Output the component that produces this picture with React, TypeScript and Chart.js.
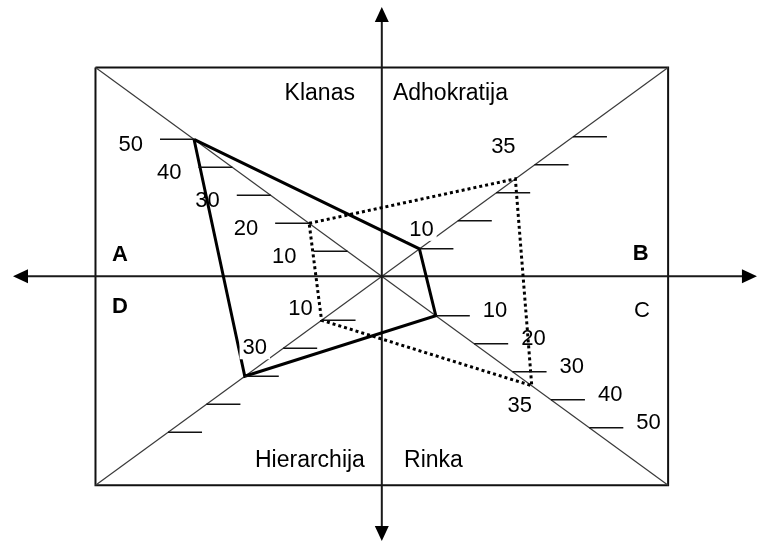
import React, { useEffect, useRef } from "react";
import { Chart, registerables } from "chart.js";

Chart.register(...registerables);

// ---- data ----
const quadrantKeys = ["A", "B", "C", "D"];
const cultureNames = ["Klanas", "Adhokratija", "Rinka", "Hierarchija"];
const tickValues = [10, 20, 30, 40, 50];
const solidValues = [50, 10, 10, 30]; // A, B, C, D
const dottedValues = [20, 35, 35, 10]; // A, B, C, D
const labelledTickQuadrants = ["A", "C"];

// ---- layout (chart units) ----
const DIR: Record<string, number[]> = { A: [-1, 1], B: [1, 1], C: [1, -1], D: [-1, -1] };
const AXIS_START: Record<string, number> = { A: -1.07, B: -0.2, C: 4.07, D: 5.7 };
const BOX = 74.6;
const X_MIN = -99.48, X_MAX = 98.02, Y_MIN = -94.54, Y_MAX = 98.68;
const AX_LEFT = -96.1, AX_RIGHT = 97.75, AX_TOP = 96.2, AX_BOTTOM = -94.5;
const TICK_LEN = 34;
const FONT = '"Liberation Sans", Arial, sans-serif';

const NAME_POS: Record<string, { x: number; y: number; align: CanvasTextAlign }> = {
  Klanas: { x: -7.0, y: 63.0, align: "right" },
  Adhokratija: { x: 2.9, y: 63.0, align: "left" },
  Hierarchija: { x: -4.4, y: -68.1, align: "right" },
  Rinka: { x: 5.8, y: -68.1, align: "left" },
};
const LETTER_POS: Record<string, { x: number; y: number; bold: boolean }> = {
  A: { x: -70.3, y: 5.5, bold: true },
  B: { x: 65.4, y: 5.8, bold: true },
  C: { x: 65.7, y: -14.5, bold: false },
  D: { x: -70.3, y: -13.1, bold: true },
};
const DATA_LABEL_OFFSET: Record<string, number[]> = {
  solidB: [2, -19],
  dottedB: [-12, -32],
  dottedC: [-12, 20],
  dottedD: [-21, -11],
  solidD: [10, -28],
};

function pos(q: string, v: number) {
  const r = v + AXIS_START[q];
  return { x: DIR[q][0] * r, y: DIR[q][1] * r };
}

function polygon(values: number[]) {
  const pts = quadrantKeys.map((q, i) => pos(q, values[i]));
  return [...pts, pts[0]];
}

const overlay = {
  id: "overlay",
  afterDatasetsDraw(chart: any) {
    const { ctx, scales } = chart;
    const X = (v: number) => scales.x.getPixelForValue(v);
    const Y = (v: number) => scales.y.getPixelForValue(v);
    ctx.save();
    ctx.fillStyle = "#000";
    ctx.strokeStyle = "#111";

    // arrowheads
    const arrow = (tx: number, ty: number, dx: number, dy: number) => {
      const L = 15, W = 7;
      const bx = tx - dx * L, by = ty - dy * L;
      ctx.beginPath();
      ctx.moveTo(tx, ty);
      ctx.lineTo(bx - dy * W, by + dx * W);
      ctx.lineTo(bx + dy * W, by - dx * W);
      ctx.closePath();
      ctx.fill();
    };
    arrow(X(AX_LEFT), Y(0), -1, 0);
    arrow(X(AX_RIGHT), Y(0), 1, 0);
    arrow(X(0), Y(AX_TOP), 0, -1);
    arrow(X(0), Y(AX_BOTTOM), 0, 1);

    // ticks and tick labels
    ctx.lineWidth = 1.5;
    ctx.font = `22px ${FONT}`;
    ctx.textBaseline = "middle";
    quadrantKeys.forEach((q) => {
      tickValues.forEach((v) => {
        const p = pos(q, v);
        const px = X(p.x), py = Y(p.y);
        const x0 = q === "A" ? px - TICK_LEN : px;
        const x1 = q === "A" ? px : px + TICK_LEN;
        ctx.beginPath();
        ctx.moveTo(x0, py);
        ctx.lineTo(x1, py);
        ctx.stroke();
        if (labelledTickQuadrants.includes(q)) {
          if (q === "A") {
            ctx.textAlign = "right";
            ctx.fillText(String(v), x0 - 17, py + 6);
          } else {
            ctx.textAlign = "left";
            ctx.fillText(String(v), x1 + 13, py - 5);
          }
        }
      });
    });

    // data labels
    ctx.textAlign = "center";
    const series: [string, number[]][] = [["solid", solidValues], ["dotted", dottedValues]];
    series.forEach(([name, vals]) => {
      quadrantKeys.forEach((q, i) => {
        const v = vals[i];
        if (labelledTickQuadrants.includes(q) && tickValues.includes(v)) return;
        const off = DATA_LABEL_OFFSET[name + q] || [0, -20];
        const p = pos(q, v);
        const cx = X(p.x) + off[0], cy = Y(p.y) + off[1];
        const w = ctx.measureText(String(v)).width;
        ctx.fillStyle = "#fff";
        ctx.fillRect(cx - w / 2 - 3, cy - 11, w + 6, 22);
        ctx.fillStyle = "#000";
        ctx.fillText(String(v), cx, cy);
      });
    });

    // culture names
    ctx.textBaseline = "alphabetic";
    ctx.font = `23px ${FONT}`;
    cultureNames.forEach((n) => {
      const p = NAME_POS[n];
      ctx.textAlign = p.align;
      ctx.fillText(n, X(p.x), Y(p.y));
    });

    // quadrant letters
    ctx.textAlign = "left";
    quadrantKeys.forEach((q) => {
      const p = LETTER_POS[q];
      ctx.font = `${p.bold ? "bold " : ""}22px ${FONT}`;
      ctx.fillText(q, X(p.x), Y(p.y));
    });
    ctx.restore();
  },
};

export default function App() {
  const ref = useRef<HTMLCanvasElement>(null);
  useEffect(() => {
    if (!ref.current) return;
    const line = (data: any[], color: string, width: number, extra: any = {}) => ({
      data,
      showLine: true,
      borderColor: color,
      borderWidth: width,
      pointRadius: 0,
      tension: 0,
      fill: false,
      ...extra,
    });
    const chart = new Chart(ref.current, {
      type: "scatter",
      data: {
        datasets: [
          line(polygon(solidValues), "#000", 3, { borderJoinStyle: "miter" }),
          line(polygon(dottedValues), "#000", 3, { borderDash: [3, 3], borderCapStyle: "butt" }),
          line([{ x: AX_LEFT + 3, y: 0 }, { x: AX_RIGHT - 3, y: 0 }], "#1a1a1a", 2),
          line([{ x: 0, y: AX_TOP - 4 }, { x: 0, y: AX_BOTTOM + 4 }], "#1a1a1a", 2),
          line([{ x: -BOX, y: BOX }, { x: BOX, y: -BOX }], "#3a3a3a", 1.2),
          line([{ x: -BOX, y: -BOX }, { x: BOX, y: BOX }], "#3a3a3a", 1.2),
          line(
            [
              { x: -BOX, y: BOX },
              { x: BOX, y: BOX },
              { x: BOX, y: -BOX },
              { x: -BOX, y: -BOX },
              { x: -BOX, y: BOX },
            ],
            "#111",
            2
          ),
        ],
      },
      options: {
        responsive: false,
        animation: false,
        events: [],
        layout: { padding: 0 },
        plugins: { legend: { display: false }, tooltip: { enabled: false } },
        scales: {
          x: { type: "linear", min: X_MIN, max: X_MAX, display: false },
          y: { type: "linear", min: Y_MIN, max: Y_MAX, display: false },
        },
      },
      plugins: [overlay],
    });
    return () => chart.destroy();
  }, []);
  return (
    <div style={{ position: "absolute", left: 0, top: 0, width: 758, height: 541, background: "#fff" }}>
      <canvas ref={ref} width={758} height={541} style={{ display: "block" }} />
    </div>
  );
}
